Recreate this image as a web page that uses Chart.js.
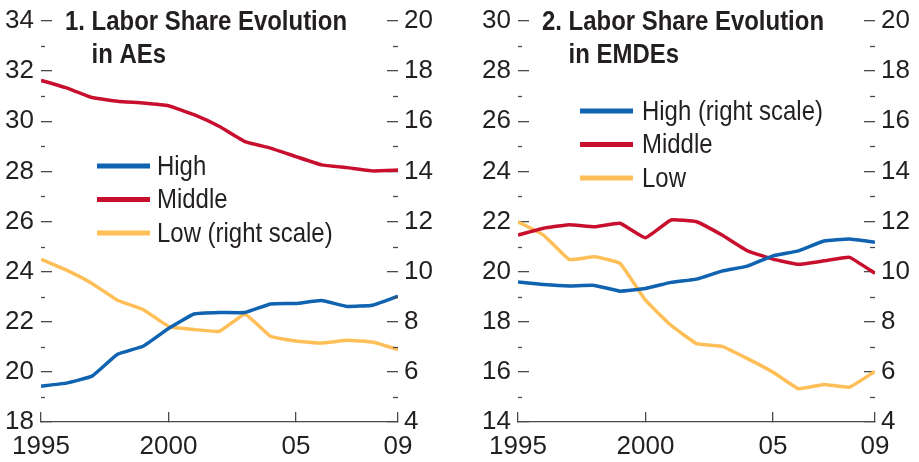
<!DOCTYPE html>
<html>
<head>
<meta charset="utf-8">
<script src="https://cdn.jsdelivr.net/npm/chart.js@4.4.1/dist/chart.umd.min.js"></script>
<style>
  html, body { margin: 0; padding: 0; background: #fff; overflow: hidden; }
  .panel { position: absolute; top: 0; width: 440px; height: 462px; }
  #p1 { left: 0; }
  #p2 { left: 477px; }
</style>
</head>
<body>
<div class="panel" id="p1"><canvas id="c1" width="440" height="462"></canvas></div>
<div class="panel" id="p2"><canvas id="c2" width="440" height="462"></canvas></div>
<script>
// years and x-axis labels
const years = [1995, 1996, 1997, 1998, 1999, 2000, 2001, 2002, 2003, 2004, 2005, 2006, 2007, 2008, 2009];
const xTickYears = [1995, 2000, 2005, 2009];
const xTickLabels = ['1995', '2000', '05', '09'];

// panel 1: advanced economies
const aeHigh   = [19.43, 19.55, 19.83, 20.70, 21.02, 21.73, 22.31, 22.37, 22.37, 22.71, 22.73, 22.85, 22.61, 22.66, 23.02];
const aeMiddle = [31.63, 31.33, 30.95, 30.80, 30.73, 30.62, 30.26, 29.79, 29.19, 28.93, 28.59, 28.26, 28.15, 28.02, 28.05];
const aeLow    = [10.49, 10.06, 9.53, 8.86, 8.49, 7.82, 7.69, 7.62, 8.30, 7.42, 7.23, 7.15, 7.26, 7.19, 6.89];
const aeLeftRange = [18, 34];
const aeRightRange = [4, 20];

// panel 2: emerging market and developing economies
const emHigh   = [9.59, 9.49, 9.43, 9.45, 9.22, 9.33, 9.57, 9.70, 10.02, 10.22, 10.63, 10.83, 11.22, 11.30, 11.17];
const emMiddle = [21.46, 21.73, 21.87, 21.79, 21.93, 21.35, 22.06, 21.99, 21.46, 20.83, 20.50, 20.29, 20.43, 20.57, 19.93];
const emLow    = [21.99, 21.46, 20.49, 20.59, 20.33, 18.86, 17.86, 17.13, 17.02, 16.53, 15.99, 15.33, 15.50, 15.39, 16.02];
const emLeftRange = [14, 30];
const emRightRange = [4, 20];

const FONT = "'Liberation Sans', Arial, sans-serif";
const INK = '#231f20';
const AXIS = '#4a4a4a';
const BLUE = '#1063b0';
const RED = '#c8102e';
const GOLD = '#ffbf58';
const SQUEEZE = 0.855;   // the original uses a condensed face

function toPoints(vals) {
    return vals.map((v, i) => ({ x: years[i], y: v }));
}

function narrowText(ctx, text, x, y) {
    ctx.save();
    ctx.translate(x, y);
    ctx.scale(SQUEEZE, 1);
    ctx.fillText(text, 0, 0);
    ctx.restore();
}

// title, legend and the short in-between ticks
function decor(titleNum, titleLine1, titleLine2, lg) {
    return {
        id: 'decor',
        afterDraw(chart) {
            const ctx = chart.ctx;
            const a = chart.chartArea;
            ctx.save();

            // minor ticks at odd values
            ctx.strokeStyle = AXIS;
            ctx.lineWidth = 1.3;
            ['yL', 'yR'].forEach(id => {
                const s = chart.scales[id];
                for (let v = s.min + 1; v < s.max; v += 2) {
                    const y = Math.round(s.getPixelForValue(v)) + 0.5;
                    ctx.beginPath();
                    if (id === 'yL') { ctx.moveTo(a.left, y); ctx.lineTo(a.left + 4, y); }
                    else { ctx.moveTo(a.right - 5, y); ctx.lineTo(a.right, y); }
                    ctx.stroke();
                }
            });

            // title
            ctx.fillStyle = INK;
            ctx.font = 'bold 28px ' + FONT;
            ctx.textBaseline = 'alphabetic';
            ctx.textAlign = 'left';
            const tx = a.left + 24;
            narrowText(ctx, titleNum + ' ' + titleLine1, tx, 30);
            const indent = ctx.measureText(titleNum + ' ').width * SQUEEZE;
            narrowText(ctx, titleLine2, tx + indent, 63);

            // legend
            ctx.font = '28px ' + FONT;
            ctx.textBaseline = 'middle';
            chart.data.datasets.forEach((ds, i) => {
                const y = a.top + lg.top + i * 33.5;
                ctx.fillStyle = ds.borderColor;
                ctx.fillRect(a.left + lg.swatch, y - 2.5, 53, 5);
                ctx.fillStyle = INK;
                narrowText(ctx, ds.label, a.left + lg.text, y + 1);
            });
            ctx.restore();
        }
    };
}

function makePanel(canvasId, series, leftRange, rightRange, titleNum, titleLine2, lg) {
    const tickFont = { family: FONT, size: 26, lineHeight: 1 };
    const yAxis = (pos, range, pad, width) => ({
        type: 'linear',
        position: pos,
        min: range[0],
        max: range[1],
        ticks: { stepSize: 2, font: tickFont, color: INK, padding: pad },
        grid: { drawOnChartArea: false, drawTicks: true, tickLength: -11, color: AXIS, lineWidth: 1.3 },
        border: { display: false },
        afterFit: s => { s.width = width; s.paddingTop = 0; s.paddingBottom = 0; }
    });

    new Chart(document.getElementById(canvasId), {
        type: 'line',
        data: {
            datasets: series.map(s => ({
                label: s.label,
                data: toPoints(s.values),
                yAxisID: s.axis,
                borderColor: s.color,
                backgroundColor: s.color,
                borderWidth: 3.5,
                pointRadius: 0,
                tension: 0.1,
                borderJoinStyle: 'round',
                borderCapStyle: 'butt'
            }))
        },
        options: {
            responsive: false,
            animation: false,
            devicePixelRatio: 1,
            layout: { padding: { top: 21, left: 0, right: 0, bottom: 0 } },
            plugins: { legend: { display: false }, title: { display: false }, tooltip: { enabled: false } },
            scales: {
                x: {
                    type: 'linear',
                    min: years[0],
                    max: years[years.length - 1],
                    afterBuildTicks: axis => { axis.ticks = xTickYears.map(v => ({ value: v })); },
                    ticks: {
                        font: tickFont,
                        color: INK,
                        padding: 22,
                        maxRotation: 0,
                        autoSkip: false,
                        callback: v => xTickLabels[xTickYears.indexOf(v)]
                    },
                    grid: { drawOnChartArea: false, drawTicks: true, tickLength: -10, color: AXIS, lineWidth: 1.3 },
                    border: { display: true, color: AXIS, width: 1.3 },
                    afterFit: s => { s.height = 40; s.paddingLeft = 0; s.paddingRight = 0; }
                },
                yL: yAxis('left', leftRange, 18, 41),
                yR: yAxis('right', rightRange, 17, 42)
            }
        },
        plugins: [decor(titleNum, 'Labor Share Evolution', titleLine2, lg)]
    });
}

makePanel('c1', [
    { label: 'High', values: aeHigh, color: BLUE, axis: 'yL' },
    { label: 'Middle', values: aeMiddle, color: RED, axis: 'yL' },
    { label: 'Low (right scale)', values: aeLow, color: GOLD, axis: 'yR' }
], aeLeftRange, aeRightRange, '1.', 'in AEs', { top: 145, swatch: 56, text: 116 });

makePanel('c2', [
    { label: 'High (right scale)', values: emHigh, color: BLUE, axis: 'yR' },
    { label: 'Middle', values: emMiddle, color: RED, axis: 'yL' },
    { label: 'Low', values: emLow, color: GOLD, axis: 'yL' }
], emLeftRange, emRightRange, '2.', 'in EMDEs', { top: 90, swatch: 62, text: 124 });
</script>
</body>
</html>
